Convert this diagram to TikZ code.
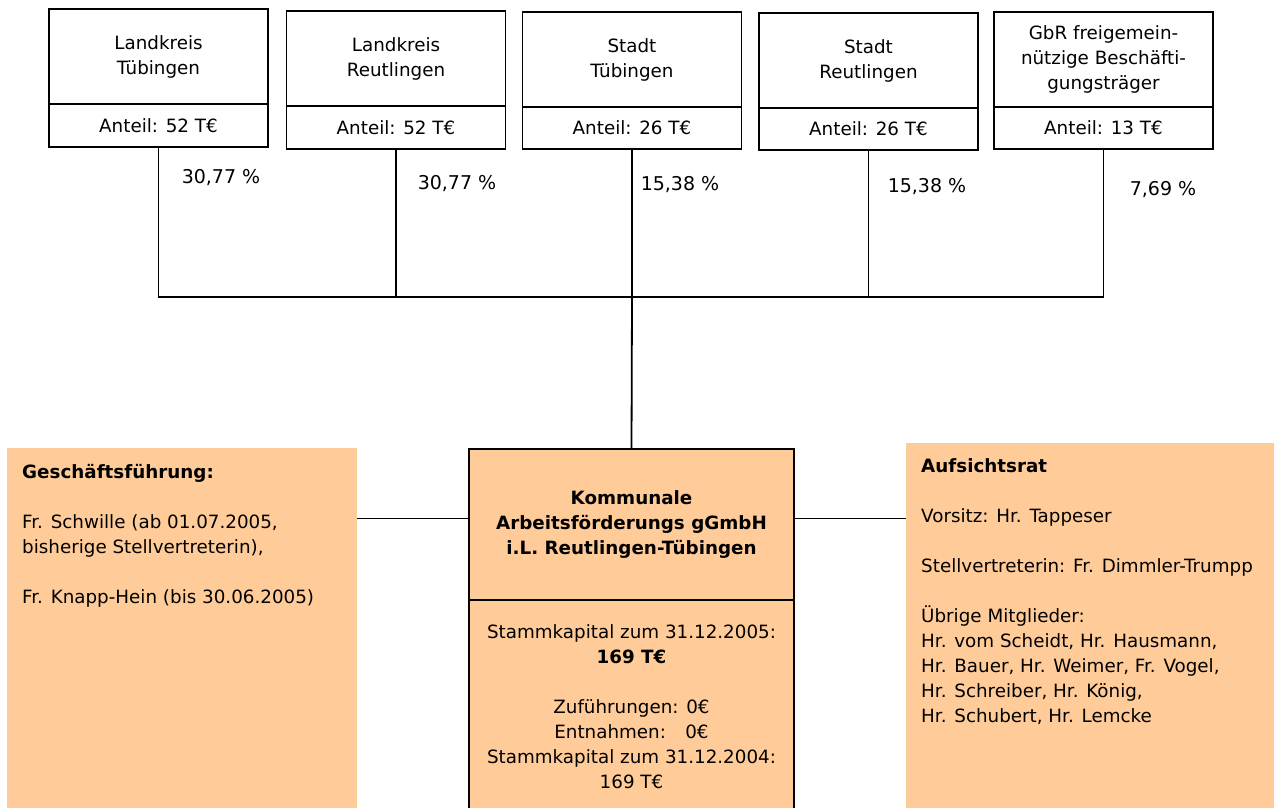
\documentclass[tikz,border=0pt]{standalone}
\usepackage{fontspec}
\setmainfont{DejaVu Sans}
\usetikzlibrary{positioning}
\definecolor{peach}{RGB}{255,204,153}

\begin{document}
\begin{tikzpicture}[x=1pt,y=1pt,yscale=-1,xscale=1,
  txt/.style={font=\fontsize{18.3}{25}\selectfont},
  namebox/.style={draw, line width=1.2pt, txt, align=center, minimum width=219, inner sep=0, outer sep=0},
  sharebox/.style={draw, line width=1.2pt, txt, minimum width=219, inner sep=0, outer sep=0},
  orgbox/.style={draw, line width=1.2pt, fill=peach, txt, align=center, minimum width=325, inner sep=0, outer sep=0},
  sidebox/.style={fill=peach, anchor=north west, inner sep=0, outer sep=0},
  sidetext/.style={txt, align=left, anchor=north west, inner sep=0},
  pct/.style={font=\fontsize{19}{25}\selectfont},
  link/.style={line width=1.2pt}]
\clip (0,0) rectangle (1274,808);

%Shape: Rectangle Landkreis Tuebingen
\node[namebox, minimum height=95] (lkt) at (158.5,56.5) {Landkreis\\Tübingen};
\node[sharebox, minimum height=43, below=0pt of lkt] (lkt-a) {Anteil: 52 T€};
%Shape: Rectangle Landkreis Reutlingen
\node[namebox, minimum height=95] (lkr) at (396,58.5) {Landkreis\\Reutlingen};
\node[sharebox, minimum height=43, below=0pt of lkr] (lkr-a) {Anteil: 52 T€};
%Shape: Rectangle Stadt Tuebingen
\node[namebox, minimum height=95] (stt) at (632,59.5) {Stadt\\Tübingen};
\node[sharebox, minimum height=42, below=0pt of stt] (stt-a) {Anteil: 26 T€};
%Shape: Rectangle Stadt Reutlingen
\node[namebox, minimum height=95] (str) at (868.5,60.5) {Stadt\\Reutlingen};
\node[sharebox, minimum height=42, below=0pt of str] (str-a) {Anteil: 26 T€};
%Shape: Rectangle GbR
\node[namebox, minimum height=95] (gbr) at (1103.5,59.5) {GbR freigemein-\\nützige Beschäfti-\\gungsträger};
\node[sharebox, minimum height=42, below=0pt of gbr] (gbr-a) {Anteil: 13 T€};

% Text Node
\node[pct] (p-lkt) at (221,178) {30,77 \%};
% Text Node
\node[pct] (p-lkr) at (457,184) {30,77 \%};
% Text Node
\node[pct] (p-stt) at (680,185) {15,38 \%};
% Text Node
\node[pct] (p-str) at (927,187) {15,38 \%};
% Text Node
\node[pct] (p-gbr) at (1163,190) {7,69 \%};

%Shape: Rectangle Gesellschaft
\node[orgbox, minimum height=151] (kaf) at (631.5,524.5) {\textbf{Kommunale}\\\textbf{Arbeitsförderungs gGmbH}\\\textbf{i.L. Reutlingen-Tübingen}};
\node[orgbox, minimum height=214, below=0pt of kaf] (kap) {Stammkapital zum 31.12.2005:\\\textbf{169 T€}\\[25pt]Zuführungen: 0€\\\makebox[0pt][l]{Entnahmen:}\hphantom{Zuführungen:} 0€\\Stammkapital zum 31.12.2004:\\169 T€};

%Shape: Rectangle Geschaeftsfuehrung
\node[sidebox, minimum width=350, minimum height=367] (gf) at (7,448) {};
% Text Node
\node[sidetext] (gf-text) at ([shift={(15,16)}]gf.north west) {\textbf{Geschäftsführung:}\\[25pt]Fr. Schwille (ab 01.07.2005,\\bisherige Stellvertreterin),\\[25pt]Fr. Knapp-Hein (bis 30.06.2005)};

%Shape: Rectangle Aufsichtsrat
\node[sidebox, minimum width=374, minimum height=372] (ar) at (906,443) {};
% Text Node
\node[sidetext] (ar-text) at ([shift={(15,15)}]ar.north west) {\textbf{Aufsichtsrat}\\[25pt]Vorsitz: Hr. Tappeser\\[25pt]Stellvertreterin: Fr. Dimmler-Trumpp\\[25pt]Übrige Mitglieder:\\Hr. vom Scheidt, Hr. Hausmann,\\Hr. Bauer, Hr. Weimer, Fr. Vogel,\\Hr. Schreiber, Hr. König,\\Hr. Schubert, Hr. Lemcke};

%Straight Lines
\coordinate (bus) at (632,297);
\draw[link] (lkt-a.south) -- (lkt-a.south |- bus) -- (gbr-a.south |- bus) -- (gbr-a.south);
\draw[link] (lkr-a.south) -- (lkr-a.south |- bus);
\draw[link] (stt-a.south) -- (stt-a.south |- bus);
\draw[link] (str-a.south) -- (str-a.south |- bus);
\draw[link, line width=1.8pt] (bus) -- (kaf.north);
\draw[link] ([yshift=-6]kaf.west) -- ([yshift=-6]kaf.west -| gf.east);
\draw[link] ([yshift=-6]kaf.east) -- ([yshift=-6]kaf.east -| ar.west);

\end{tikzpicture}
\end{document}
